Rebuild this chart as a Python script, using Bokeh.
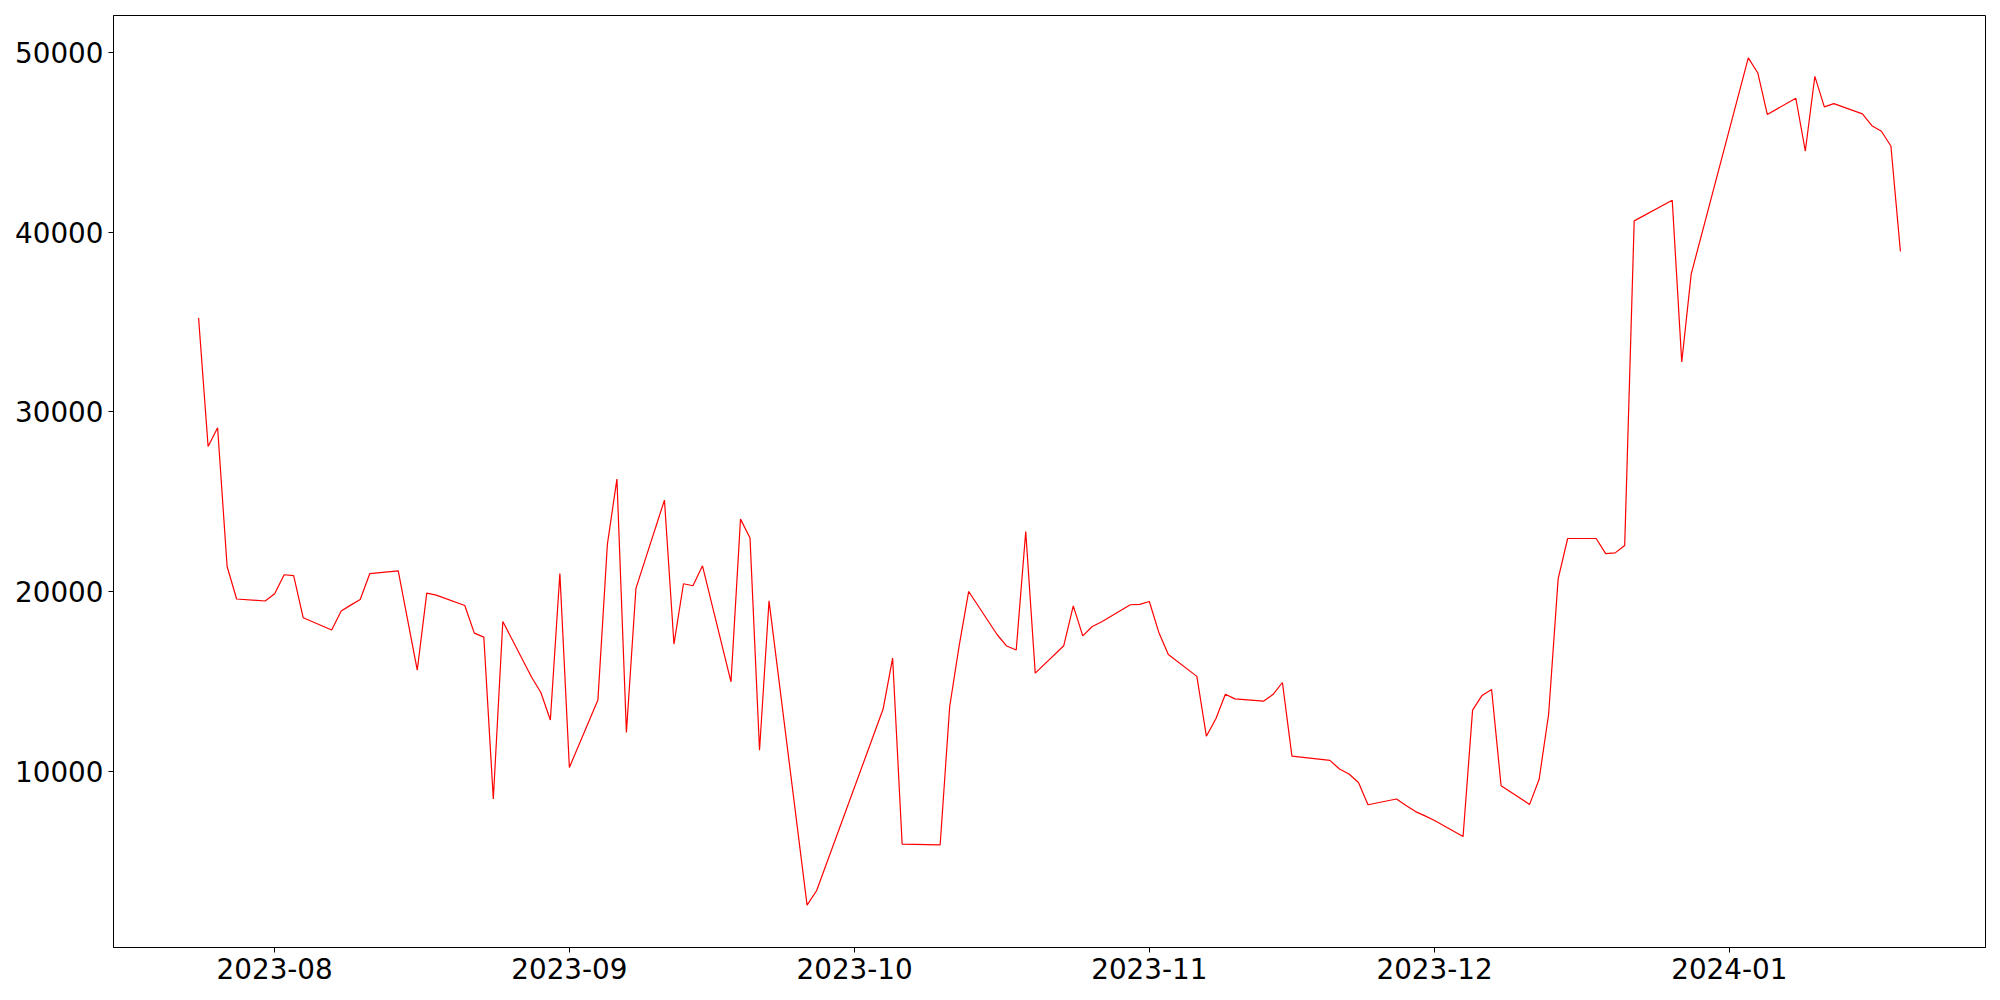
import pandas as pd
from bokeh.plotting import figure
from bokeh.models import Range1d, FixedTicker, DatetimeTickFormatter, ColumnDataSource
from bokeh.embed import file_html
from bokeh.resources import INLINE

# ---- data ----
dates = [
    "2023-07-24", "2023-07-25", "2023-07-26", "2023-07-27", "2023-07-28",
    "2023-07-31", "2023-08-01", "2023-08-02", "2023-08-03", "2023-08-04",
    "2023-08-07", "2023-08-08", "2023-08-09", "2023-08-10", "2023-08-11",
    "2023-08-14", "2023-08-16", "2023-08-17", "2023-08-18",
    "2023-08-21", "2023-08-22", "2023-08-23", "2023-08-24", "2023-08-25",
    "2023-08-28", "2023-08-29", "2023-08-30", "2023-08-31", "2023-09-01",
    "2023-09-04", "2023-09-05", "2023-09-06", "2023-09-07", "2023-09-08",
    "2023-09-11", "2023-09-12", "2023-09-13", "2023-09-14", "2023-09-15",
    "2023-09-18", "2023-09-19", "2023-09-20", "2023-09-21", "2023-09-22",
    "2023-09-26", "2023-09-27",
    "2023-10-04", "2023-10-05", "2023-10-06",
    "2023-10-10", "2023-10-11", "2023-10-12", "2023-10-13",
    "2023-10-16", "2023-10-17", "2023-10-18", "2023-10-19", "2023-10-20",
    "2023-10-23", "2023-10-24", "2023-10-25", "2023-10-26", "2023-10-27",
    "2023-10-30", "2023-10-31", "2023-11-01", "2023-11-02", "2023-11-03",
    "2023-11-06", "2023-11-07", "2023-11-08", "2023-11-09", "2023-11-10",
    "2023-11-13", "2023-11-14", "2023-11-15", "2023-11-16",
    "2023-11-20", "2023-11-21", "2023-11-22", "2023-11-23", "2023-11-24",
    "2023-11-27", "2023-11-28", "2023-11-29", "2023-11-30", "2023-12-01",
    "2023-12-04", "2023-12-05", "2023-12-06", "2023-12-07", "2023-12-08",
    "2023-12-11", "2023-12-12", "2023-12-13", "2023-12-14", "2023-12-15",
    "2023-12-18", "2023-12-19", "2023-12-20", "2023-12-21", "2023-12-22",
    "2023-12-26", "2023-12-27", "2023-12-28",
    "2024-01-03", "2024-01-04", "2024-01-05",
    "2024-01-08", "2024-01-09", "2024-01-10", "2024-01-11", "2024-01-12",
    "2024-01-15", "2024-01-16", "2024-01-17", "2024-01-18", "2024-01-19",
]
values = [
    35230, 28080, 29120, 21390, 19580,
    19470, 19870, 20930, 20880, 18540,
    17850, 18910, 19240, 19550, 20990,
    21150, 15620, 19910, 19800,
    19220, 17680, 17460, 8440, 18330,
    15250, 14370, 12840, 21000, 10200,
    13950, 22640, 26260, 12150, 20170,
    25090, 17070, 20430, 20320, 21430,
    14970, 24030, 22980, 11160, 19480,
    2530, 3330,
    13450, 16290, 5930,
    5890, 13580, 16980, 20000,
    17590, 16960, 16740, 23340, 15450,
    16980, 19200, 17530, 18050, 18310,
    19260, 19280, 19440, 17720, 16490,
    15270, 11940, 12910, 14280, 14020,
    13890, 14260, 14930, 10830,
    10590, 10110, 9830, 9360, 8120,
    8440, 8080, 7740, 7500, 7240,
    6350, 13390, 14210, 14540, 9180,
    8140, 9540, 13160, 20700, 22950,
    22950, 22110, 22150, 22560, 40640,
    41790, 32780, 37690,
    49720, 48880, 46570,
    47470, 44530, 48690, 46990, 47170,
    46600, 45940, 45630, 44810, 38940,
]
x_tick_labels = ["2023-08", "2023-09", "2023-10", "2023-11", "2023-12", "2024-01"]
y_ticks = [10000, 20000, 30000, 40000, 50000]

# ---- build ----
x = pd.to_datetime(dates)
src = ColumnDataSource(dict(x=x, y=values))

xspan = x.max() - x.min()
xr = Range1d(start=x.min() - 0.05 * xspan, end=x.max() + 0.05 * xspan)
ymin, ymax = min(values), max(values)
yspan = ymax - ymin
yr = Range1d(start=ymin - 0.05 * yspan, end=ymax + 0.05 * yspan)

p = figure(
    width=1992, height=992,
    x_axis_type="datetime",
    x_range=xr, y_range=yr,
    output_backend="svg", toolbar_location=None,
    min_border_left=113, min_border_right=7,
    min_border_top=15, min_border_bottom=45,
    background_fill_color="white", border_fill_color="white",
)
p.line("x", "y", source=src, line_color="red", line_width=1.2)

p.xgrid.visible = False
p.ygrid.visible = False
p.outline_line_color = "black"
p.outline_line_alpha = 1.0
p.outline_line_width = 1

tick_ms = [pd.Timestamp(t + "-01").value // 10**6 for t in x_tick_labels]
p.xaxis.ticker = FixedTicker(ticks=tick_ms)
fmt = "%Y-%m"
p.xaxis.formatter = DatetimeTickFormatter(
    microseconds=fmt, milliseconds=fmt, seconds=fmt, minsec=fmt, minutes=fmt,
    hourmin=fmt, hours=fmt, days=fmt, months=fmt, years=fmt,
)
p.yaxis.ticker = FixedTicker(ticks=y_ticks)
p.yaxis.major_label_overrides = {v: str(v) for v in y_ticks}

for ax in (p.xaxis, p.yaxis):
    ax.major_label_text_font = "DejaVu Sans"
    ax.major_label_text_font_size = "27.8px"
    ax.major_label_text_color = "black"
    ax.axis_line_color = "black"
    ax.axis_line_width = 1
    ax.major_tick_line_color = "black"
    ax.major_tick_in = 0
    ax.major_tick_out = 5
    ax.minor_tick_line_color = None
    ax.major_label_standoff = 5

open("out.html", "w").write(file_html(p, INLINE))
